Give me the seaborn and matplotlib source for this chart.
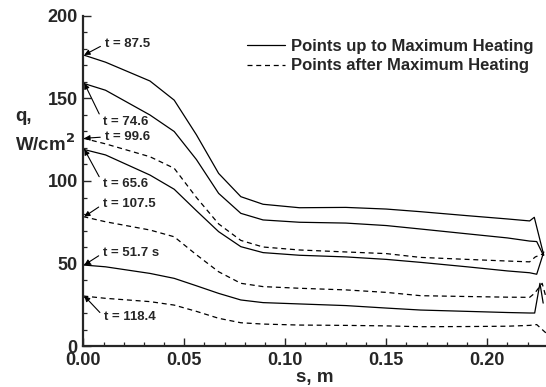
import numpy as np
import pandas as pd
import matplotlib
matplotlib.use("Agg")
import matplotlib.pyplot as plt
from matplotlib.ticker import MultipleLocator
import seaborn as sns

# ---------------- data ----------------
s_body = [0.0, 0.011, 0.033, 0.045, 0.056, 0.067, 0.078, 0.089, 0.107,
          0.130, 0.150, 0.167, 0.190, 0.210, 0.221]

q_87_5 = [176.4, 172.0, 160.6, 149.0, 128.0, 104.6, 90.5, 85.9, 83.8,
          84.0, 83.0, 81.4, 79.0, 77.0, 75.8]
q_74_6 = [159.2, 155.0, 140.0, 130.0, 113.0, 92.5, 80.4, 76.4, 75.0,
          74.5, 73.0, 70.9, 68.0, 65.5, 63.6]
q_99_6 = [125.9, 122.5, 114.7, 107.7, 90.0, 74.0, 64.0, 60.0, 58.2,
          57.0, 56.0, 53.7, 52.5, 51.5, 51.0]
q_65_6 = [119.2, 115.8, 103.6, 95.0, 82.0, 69.3, 60.2, 56.6, 55.0,
          54.0, 52.5, 50.7, 48.0, 45.5, 44.4]
q_107_5 = [78.4, 75.3, 70.3, 66.2, 55.3, 45.0, 38.0, 36.0, 35.0,
           34.0, 32.5, 30.5, 30.0, 29.6, 29.5]
q_51_7 = [49.1, 48.0, 44.0, 41.0, 36.5, 31.9, 27.9, 26.3, 25.5,
          24.5, 23.0, 21.8, 21.0, 20.3, 20.0]
q_118_4 = [30.3, 28.9, 26.9, 24.8, 21.0, 16.8, 14.1, 13.3, 12.7,
           12.5, 12.2, 11.7, 11.8, 12.0, 12.5]

# trailing-edge segments
s_tail_87_5, q_tail_87_5 = [0.2233, 0.2280], [78.0, 55.0]
s_tail_74_6, q_tail_74_6 = [0.2245, 0.2278], [63.3, 55.0]
s_tail_99_6, q_tail_99_6 = [0.2238, 0.2280], [54.0, 56.0]
s_tail_65_6, q_tail_65_6 = [0.2245, 0.2280], [43.5, 57.0]
s_tail_107_5, q_tail_107_5 = [0.2235, 0.2272, 0.2290], [32.0, 38.0, 30.0]
s_tail_51_7, q_tail_51_7 = [0.2235, 0.2261, 0.2277], [20.0, 38.0, 26.0]
s_tail_118_4, q_tail_118_4 = [0.2245, 0.2290], [13.0, 8.0]

curve_names = ["87.5", "74.6", "99.6", "65.6", "107.5", "51.7", "118.4"]
curve_kind = ["Points up to Maximum Heating", "Points up to Maximum Heating",
              "Points after Maximum Heating", "Points up to Maximum Heating",
              "Points after Maximum Heating", "Points up to Maximum Heating",
              "Points after Maximum Heating"]
label_texts = ["t = 87.5", "t = 74.6", "t = 99.6", "t = 65.6",
               "t = 107.5", "t = 51.7 s", "t = 118.4"]

bodies = [q_87_5, q_74_6, q_99_6, q_65_6, q_107_5, q_51_7, q_118_4]
tails_s = [s_tail_87_5, s_tail_74_6, s_tail_99_6, s_tail_65_6,
           s_tail_107_5, s_tail_51_7, s_tail_118_4]
tails_q = [q_tail_87_5, q_tail_74_6, q_tail_99_6, q_tail_65_6,
           q_tail_107_5, q_tail_51_7, q_tail_118_4]

rows = []
for name, kind, qb, ts, tq in zip(curve_names, curve_kind, bodies, tails_s, tails_q):
    for s, q in zip(list(s_body) + ts, list(qb) + tq):
        rows.append({"curve": name, "kind": kind, "s": s, "q": q})
df = pd.DataFrame(rows)

# ---------------- style ----------------
sns.set_style("ticks")
plt.rcParams["font.family"] = ["Liberation Sans", "DejaVu Sans"]
plt.rcParams["font.weight"] = "bold"
plt.rcParams["xtick.direction"] = "in"
plt.rcParams["ytick.direction"] = "in"

fig = plt.figure(figsize=(5.46, 3.87), dpi=100)
ax = fig.add_axes([0.1526, 0.1059, 1.0 - 0.1526, 0.9587 - 0.1059])

kinds = ["Points up to Maximum Heating", "Points after Maximum Heating"]
sns.lineplot(data=df, x="s", y="q", units="curve", estimator=None,
             style="kind", style_order=kinds,
             dashes={kinds[0]: "", kinds[1]: (4, 3)},
             color="black", lw=0.9, sort=False, ax=ax)

ax.set_xlim(0, 0.2291)
ax.set_ylim(0, 200)
ax.xaxis.set_major_locator(MultipleLocator(0.05))
ax.xaxis.set_minor_locator(MultipleLocator(0.01))
ax.yaxis.set_major_locator(MultipleLocator(50))
ax.yaxis.set_minor_locator(MultipleLocator(10))
ax.set_xticklabels([f"{v:.2f}" for v in ax.get_xticks()])
ax.tick_params(which="major", length=6, width=1.0, labelsize=13)
ax.tick_params(axis="x", which="major", pad=4)
ax.tick_params(axis="y", which="major", pad=4)
ax.tick_params(which="minor", length=3, width=0.9)
for lab in ax.get_xticklabels() + ax.get_yticklabels():
    lab.set_fontweight("bold")

for sp in ["top", "right"]:
    ax.spines[sp].set_visible(False)
for sp in ["left", "bottom"]:
    ax.spines[sp].set_linewidth(1.6)

ax.set_xlabel("s, m", fontsize=13.5, fontweight="bold", labelpad=0)
ax.set_ylabel("")
fig.text(0.028, 0.66, "q,\nW/cm$^\\mathbf{2}$", fontsize=13.5, fontweight="bold",
         ha="left", va="center", linespacing=1.45, multialignment="left")

# legend
handles, labels = ax.get_legend_handles_labels()
hl = [(h, l) for h, l in zip(handles, labels) if l in kinds]
ax.legend([h for h, _ in hl], [l for _, l in hl], loc="upper right",
          bbox_to_anchor=(1.005, 0.975), frameon=False,
          handlelength=2.3, handletextpad=0.35, labelspacing=0.25,
          prop={"weight": "bold", "size": 12})

# annotations with arrows
label_pos = [(0.0107, 183.0), (0.0098, 135.8), (0.0107, 126.7), (0.0098, 98.2),
             (0.0098, 86.0), (0.0098, 56.4), (0.0103, 17.6)]
for txt, (tx, ty), qb in zip(label_texts, label_pos, bodies):
    ax.annotate(txt, xy=(0.0005, qb[0]), xytext=(tx, ty),
                textcoords="data", fontsize=9.5, fontweight="bold",
                ha="left", va="center",
                arrowprops=dict(arrowstyle="-|>", color="black", lw=0.8,
                                mutation_scale=8, shrinkA=1, shrinkB=0,
                                relpos=(0.0, 0.5)))

fig.savefig("out.png", dpi=100)
